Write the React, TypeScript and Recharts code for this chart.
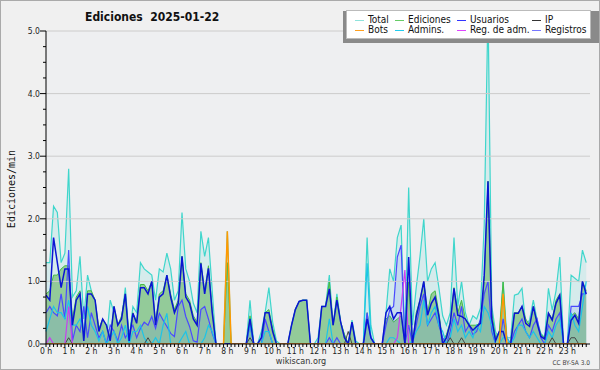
import React from "react";
import { ComposedChart, Area, Line, XAxis, YAxis, ReferenceLine, CartesianGrid } from "recharts";

// one value every 10 minutes, 6 per hour row
const hourLabels = Array.from({ length: 24 }, (_, h) => `${h} h`);
const gridValues = [1, 2, 3, 4, 5];

const total = [
  1.3, 1.3, 2.2, 2.1, 1.3, 1.45,
  2.8, 0.75, 0.85, 1.4, 0.4, 1.1,
  0.85, 0.4, 0.2, 0.3, 0.05, 0.7,
  0.5, 0.3, 0.4, 0.9, 0.1, 0.6,
  0.5, 1.3, 1.2, 1.15, 1.1, 0.7,
  1.2, 1.15, 1.45, 1.2, 0.7, 0.85,
  2.1, 1.2, 1.0, 0.65, 0.5, 1.8,
  1.4, 1.7, 0.85, 0, 0, 0,
  1.8, 0, 0, 0, 0, 0,
  0.7, 0, 0, 0.2, 0.5, 0.9,
  0.35, 0.05, 0, 0, 0, 0.3,
  0.55, 0.68, 0.7, 0.7, 0, 0,
  0.1, 0.6, 0.6, 1.1, 0.3, 0.8,
  0.35, 0.15, 0, 0.38, 0.05, 0,
  0, 1.7, 0.3, 0, 0, 0,
  0.5, 1.2, 1.0, 1.7, 1.9, 0.05,
  2.5, 0.3, 0.9, 1.4, 2.0, 1.0,
  1.2, 1.3, 0.9, 0.45, 0.3, 0.5,
  1.7, 0.6, 1.0, 0.5, 0.3, 0.45,
  0.4, 0.57, 1.9, 5.4, 0.6, 0.2,
  0.05, 1.0, 0.1, 0.1, 0.78, 0.8,
  0.89, 0.3, 0.38, 0.7, 0.38, 0.17,
  0.1, 0.89, 0.54, 0.85, 1.39, 0,
  0, 1.1, 1.05, 1.0, 1.5, 1.3,
];

const ediciones = [
  0.8, 0.85, 1.1, 1.1, 1.2, 1.25,
  1.25, 0.4, 0.75, 0.85, 0.1, 0.85,
  0.85, 0.7, 0.25, 0.4, 0.3, 0.1,
  0.6, 0.3, 0.45, 0.8, 0.1, 0.5,
  0.35, 0.95, 0.95, 0.85, 1.0, 0.35,
  0.8, 0.85, 1.1, 0.8, 0.55, 0.7,
  1.4, 0.8, 0.7, 0.45, 0.35, 1.3,
  0.85, 1.25, 0.55, 0, 0, 0,
  1.3, 0, 0, 0, 0, 0,
  0.45, 0, 0, 0.1, 0.5, 0.55,
  0.25, 0, 0, 0, 0, 0.3,
  0.55, 0.68, 0.7, 0.7, 0, 0,
  0, 0.6, 0.6, 1.0, 0.3, 0.75,
  0.35, 0.15, 0, 0.35, 0, 0,
  0, 0.5, 0.1, 0, 0, 0,
  0.4, 0.45, 0.35, 0.4, 0.45, 0,
  1.0, 0, 0.5, 0.7, 1.0, 0.5,
  0.8, 0.85, 0.5, 0.05, 0.15, 0.35,
  0.9, 0.5, 0.7, 0.4, 0.3, 0.3,
  0.3, 0.35, 1.0, 2.6, 0.5, 0.1,
  0.2, 1.0, 0, 0.05, 0.5, 0.5,
  0.6, 0.4, 0.3, 0.6, 0.35, 0.15,
  0.1, 0.5, 0.4, 0.7, 0.8, 0,
  0, 0.45, 0.5, 0.4, 1.0, 0.85,
];

const usuarios = [
  0.78, 0.7, 1.7, 1.3, 0.9, 1.2,
  1.2, 0.3, 0.7, 0.8, 0.05, 0.8,
  0.8, 0.7, 0.2, 0.4, 0.3, 0.05,
  0.6, 0.3, 0.4, 0.8, 0.05, 0.49,
  0.33, 0.9, 0.9, 0.8, 1.0, 0.3,
  0.75, 0.8, 1.1, 0.75, 0.5, 0.65,
  1.4, 0.75, 0.65, 0.4, 0.3, 1.29,
  0.8, 1.21, 0.5, 0, 0, 0,
  0, 0, 0, 0, 0, 0,
  0.4, 0, 0, 0.1, 0.5, 0.5,
  0.2, 0, 0, 0, 0, 0.3,
  0.55, 0.68, 0.7, 0.7, 0, 0,
  0, 0.6, 0.6, 0.88, 0.3, 0.7,
  0.35, 0.1, 0, 0.35, 0, 0,
  0, 0.4, 0.1, 0, 0, 0,
  0.5, 0.6, 0.4, 0.5, 0.5, 0,
  1.39, 0, 0.44, 0.7, 1.0, 0.46,
  0.65, 0.75, 0.44, 0, 0.1, 0.33,
  0.89, 0.46, 0.44, 0.4, 0.3, 0.22,
  0.28, 0.33, 1.1, 2.6, 0.4, 0.05,
  0.2, 0.2, 0, 0, 0.49, 0.49,
  0.6, 0.33, 0.28, 0.6, 0.33, 0.12,
  0.08, 0.49, 0.38, 0.65, 0.78, 0,
  0, 0.38, 0.46, 0.33, 1.0, 0.8,
];

const registros = [
  0.5, 0.6, 0.5, 0.45, 0.8, 0.4,
  1.5, 0.05, 0.3, 0.2, 0.6, 0.1,
  0.5, 0.3, 0.1, 0.2, 0, 0.3,
  0.2, 0.05, 0.3, 0.1, 0.2, 0.3,
  0.1, 0.25, 0.35, 0.3, 0.44, 0.25,
  0.49, 0.38, 0.28, 0.17, 0.12, 0.6,
  0.7, 0.44, 0.28, 0.05, 0.03, 0.55,
  0.6, 0.4, 0.17, 0, 0, 0,
  0, 0, 0, 0, 0, 0,
  0.3, 0, 0, 0, 0.4, 0.2,
  0, 0, 0, 0, 0, 0,
  0, 0, 0, 0, 0, 0,
  0, 0, 0, 0.1, 0, 0.1,
  0, 0, 0, 0, 0, 0,
  0, 0.5, 0.1, 0, 0, 0,
  0.3, 0.55, 0.6, 1.39, 1.58, 0,
  0.3, 0, 0.3, 0.6, 0.8, 0.3,
  0.4, 0.5, 0.3, 0.1, 0, 0.2,
  0.5, 0.3, 0.6, 0.2, 0.3, 0.15,
  0.2, 0.4, 0.8, 1.0, 0.2, 0,
  0, 0.4, 0.1, 0, 0.2, 0.3,
  0.4, 0.2, 0.1, 0.3, 0.4, 0.1,
  0, 0.3, 0.2, 0.4, 0.5, 0,
  0, 0.6, 0.6, 0.6, 0.8, 0.8,
];

const admins = [
  0.2, 0.4, 0.6, 0.5, 0.5, 0.4,
  0.7, 0.3, 0.3, 0.4, 0.2, 0.6,
  0.3, 0.2, 0.05, 0.2, 0, 0.1,
  0.2, 0, 0.1, 0.3, 0, 0.2,
  0.2, 0.3, 0.1, 0, 0, 0.1,
  0, 0.3, 0.49, 0, 0, 0,
  0.1, 0.2, 0, 0, 0, 0,
  0.1, 0.3, 0.2, 0, 0, 0,
  0, 0, 0, 0, 0, 0,
  0.3, 0, 0, 0, 0.2, 0.2,
  0, 0, 0, 0, 0, 0,
  0, 0, 0, 0, 0, 0,
  0, 0, 0, 0.4, 0, 0,
  0, 0, 0, 0, 0, 0,
  0, 1.29, 0.1, 0, 0, 0,
  0, 0.1, 0.1, 0.05, 0, 0,
  0, 0.05, 0.2, 0.3, 0.7, 0.3,
  0.5, 0.6, 0.3, 0.2, 0, 0.1,
  0.4, 0.2, 0.3, 0.1, 0.2, 0.1,
  0.3, 0.2, 0.6, 0.5, 0.3, 0,
  0, 0.1, 0.1, 0, 0.1, 0.3,
  0.3, 0.2, 0.1, 0.2, 0.1, 0,
  0, 0.2, 0.1, 0.3, 0.4, 0,
  0, 0.5, 0.3, 0.2, 0.6, 1.0,
];

const ip = [
  0, 0, 0, 0, 0, 0,
  0.1, 0, 0, 0, 0, 0,
  0, 0, 0, 0, 0, 0,
  0, 0, 0, 0, 0, 0,
  0, 0, 0, 0.1, 0, 0,
  0, 0, 0, 0, 0, 0,
  0, 0, 0, 0, 0, 0,
  0, 0, 0, 0, 0, 0,
  0, 0, 0, 0, 0, 0,
  0.1, 0, 0, 0, 0, 0,
  0, 0, 0, 0, 0, 0,
  0, 0, 0, 0, 0, 0,
  0, 0, 0, 0, 0, 0,
  0, 0, 0.2, 0, 0, 0,
  0, 0, 0, 0, 0, 0,
  0, 0, 0, 0, 0, 0,
  0, 0, 0, 0, 0, 0,
  0, 0, 0, 0, 0, 0.1,
  0, 0, 0.1, 0, 0, 0,
  0, 0, 0, 0, 0, 0,
  0, 0, 0, 0, 0, 0,
  0, 0, 0, 0, 0, 0,
  0, 0, 0.1, 0, 0, 0,
  0, 0.1, 0.1, 0, 0, 0,
];

const bots = [
  0, 0, 0, 0, 0, 0, 0, 0, 0, 0, 0, 0,
  0, 0, 0, 0, 0, 0, 0, 0, 0, 0, 0, 0,
  0, 0, 0, 0, 0, 0, 0, 0, 0, 0, 0, 0,
  0, 0, 0, 0, 0, 0, 0, 0, 0, 0, 0, 0,
  1.8, 0, 0, 0, 0, 0, 0, 0, 0, 0, 0, 0,
  0, 0, 0, 0, 0, 0, 0, 0, 0, 0, 0, 0,
  0, 0, 0, 0, 0, 0, 0, 0, 0, 0, 0, 0,
  0, 0, 0, 0, 0, 0, 0, 0, 0, 0, 0, 0,
  0, 0, 0, 0, 0, 0, 0, 0, 0, 0, 0, 0,
  0, 0, 0, 0, 0, 0, 0, 0, 0, 0, 0, 0,
  0, 0.8, 0, 0, 0, 0, 0, 0, 0, 0, 0, 0,
  0, 0, 0, 0, 0, 0, 0, 0, 0, 0, 0, 0,
];

const regAdm = [
  0, 0.1, 0, 0, 0, 0, 0.6, 0, 0, 0, 0, 0,
  0, 0, 0, 0, 0, 0, 0, 0, 0, 0, 0, 0,
  0, 0, 0, 0, 0, 0, 0, 0, 0, 0, 0, 0,
  0, 0, 0, 0, 0, 0, 0, 0, 0, 0, 0, 0,
  0, 0, 0, 0, 0, 0, 0, 0, 0, 0, 0, 0,
  0, 0, 0, 0, 0, 0, 0, 0, 0, 0, 0, 0,
  0, 0, 0, 0, 0, 0, 0, 0, 0, 0, 0, 0,
  0, 0, 0, 0, 0, 0, 0, 0, 0, 0.1, 0.6, 1.18,
  0, 0, 0, 0, 0, 0, 0, 0, 0, 0, 0, 0,
  0, 0, 0, 0, 0, 0, 0, 0, 0, 0, 0, 0,
  0, 0, 0, 0, 0, 0, 0, 0, 0, 0, 0, 0,
  0, 0, 0, 0, 0, 0, 0, 0, 0, 0, 0, 0,
];

const data = total.map((t, i) => ({
  i,
  total: t,
  ediciones: ediciones[i],
  usuarios: usuarios[i],
  registros: registros[i],
  admins: admins[i],
  ip: ip[i],
  bots: bots[i],
  regAdm: regAdm[i],
}));

const xTicks = data.map((d) => d.i);
const yTicks = Array.from({ length: 21 }, (_, k) => k * 0.25);

const FONT = "'DejaVu Sans Condensed', 'DejaVu Sans', Verdana, sans-serif";

const legendItems = [
  { label: "Total", color: "#8fe3dc" },
  { label: "Ediciones", color: "#66cc66" },
  { label: "Usuarios", color: "#3333ff" },
  { label: "IP", color: "#333333" },
  { label: "Bots", color: "#ffa020" },
  { label: "Admins.", color: "#22ccee" },
  { label: "Reg. de adm.", color: "#dd44ff" },
  { label: "Registros", color: "#7777ff" },
];
const legendCols = [353, 393, 455, 530];

function XTick(props: any) {
  const { x, y, payload } = props;
  const v = payload.value as number;
  return (
    <g>
      <line x1={x} y1={y} x2={x} y2={y + 3} stroke="#000" />
      {v % 6 === 0 && (
        <text x={x} y={y + 10} textAnchor="middle" fontSize={8.5} fontFamily={FONT} style={{ fontStretch: "condensed" }} fill="#222">
          {hourLabels[v / 6]}
        </text>
      )}
    </g>
  );
}

function YTick(props: any) {
  const { x, y, payload } = props;
  const v = payload.value as number;
  const major = Math.abs(v - Math.round(v)) < 1e-6;
  return (
    <g>
      <line x1={x - (major ? 6 : 3)} y1={y} x2={x} y2={y} stroke="#000" />
      {major && (
        <text x={x - 6} y={y + 3} textAnchor="end" fontSize={8.5} fontFamily={FONT} style={{ fontStretch: "condensed" }} fill="#222">
          {v.toFixed(1)}
        </text>
      )}
    </g>
  );
}

export default function App() {
  return (
    <div
      style={{
        position: "absolute",
        left: 0,
        top: 0,
        width: 600,
        height: 370,
        boxSizing: "border-box",
        border: "1px solid #aaaaaa",
        background: "#f0f0f0",
        fontFamily: FONT,
        fontStretch: "condensed",
        overflow: "hidden",
      }}
    >
      <div style={{ position: "absolute", left: -1, top: -1 }}>
        <ComposedChart width={600} height={370} data={data} margin={{ top: 31, right: 10, bottom: 6, left: 6 }}>
          <CartesianGrid horizontal={false} vertical={false} fill="#eeeff1" />
          {gridValues.map((g) => (
            <ReferenceLine key={g} y={g} stroke="#cccccc" strokeWidth={1} />
          ))}
          <XAxis
            type="number"
            dataKey="i"
            domain={[0, 144]}
            ticks={xTicks}
            interval={0}
            height={20}
            tickSize={0}
            tickMargin={0}
            tick={<XTick />}
            axisLine={{ stroke: "#000" }}
            tickLine={false}
          />
          <YAxis
            type="number"
            domain={[0, 5]}
            ticks={yTicks}
            interval={0}
            width={40}
            allowDataOverflow
            tickSize={0}
            tickMargin={0}
            tick={<YTick />}
            axisLine={{ stroke: "#000" }}
            tickLine={false}
          />
          <Area dataKey="total" type="linear" stroke="#3fd6cc" strokeWidth={1.2} fill="#3fd6cc" fillOpacity={0.14} isAnimationActive={false} />
          <Area dataKey="ediciones" type="linear" stroke="#44bb44" strokeWidth={1} fill="#8fc995" fillOpacity={0.95} isAnimationActive={false} />
          <Area dataKey="registros" type="linear" stroke="#4a4aff" strokeWidth={1.2} fill="#5a70ff" fillOpacity={0.14} isAnimationActive={false} />
          <Line dataKey="admins" type="linear" stroke="#1cc4e8" strokeWidth={1.2} dot={false} isAnimationActive={false} />
          <Line dataKey="ip" type="linear" stroke="#444444" strokeWidth={1} dot={false} isAnimationActive={false} />
          <Line dataKey="regAdm" type="linear" stroke="#c840f0" strokeWidth={1.2} dot={false} isAnimationActive={false} />
          <Line dataKey="usuarios" type="linear" stroke="#0a14d4" strokeWidth={1.5} dot={false} isAnimationActive={false} />
          <Line dataKey="bots" type="linear" stroke="#ff9900" strokeWidth={1.5} dot={false} isAnimationActive={false} />
        </ComposedChart>
      </div>

      <div style={{ position: "absolute", left: 84, top: 9, fontSize: 12, fontWeight: "bold", whiteSpace: "pre", color: "#111" }}>
        {"Ediciones  2025-01-22"}
      </div>

      <div
        style={{
          position: "absolute",
          left: 10,
          top: 188,
          transform: "translate(-50%, -50%) rotate(-90deg)",
          fontFamily: "'DejaVu Sans Mono', monospace",
          fontStretch: "normal",
          fontSize: 10,
          whiteSpace: "nowrap",
          color: "#111",
        }}
      >
        Ediciones/min
      </div>

      <div style={{ position: "absolute", left: 342, top: 10, width: 256, height: 32, background: "#8a8a8a" }} />
      <div style={{ position: "absolute", left: 345, top: 9, width: 245, height: 29, background: "#ffffff", border: "1px solid #bbbbbb", boxSizing: "border-box" }}>
        {legendItems.map((it, k) => {
          const col = k % 4;
          const row = Math.floor(k / 4);
          return (
            <div
              key={it.label}
              style={{
                position: "absolute",
                left: legendCols[col] - 345,
                top: 4 + row * 10,
                height: 10,
                display: "flex",
                alignItems: "center",
                fontSize: 10,
                lineHeight: "10px",
                whiteSpace: "nowrap",
                color: "#111",
              }}
            >
              <span style={{ display: "inline-block", width: 9, height: 1, background: it.color, marginRight: 4 }} />
              {it.label}
            </div>
          );
        })}
      </div>

      <div style={{ position: "absolute", left: 0, width: 600, top: 355, textAlign: "center", fontSize: 9, color: "#333" }}>
        wikiscan.org
      </div>
      <div style={{ position: "absolute", right: 9, top: 358, fontSize: 6.5, color: "#444" }}>CC BY-SA 3.0</div>
    </div>
  );
}
